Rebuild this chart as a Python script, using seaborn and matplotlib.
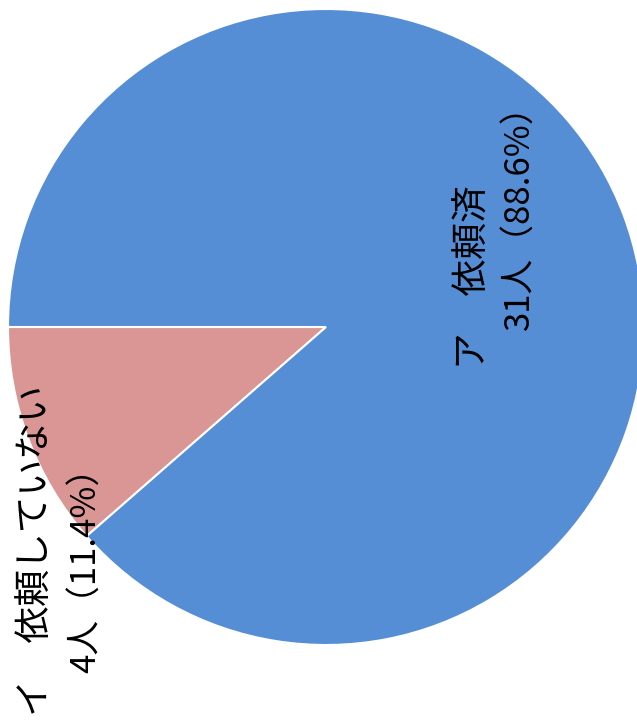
import matplotlib
matplotlib.use("Agg")
import matplotlib.pyplot as plt
import seaborn as sns

# Survey result: whether a request has been made
categories = ["ア　依頼済", "イ　依頼していない"]
counts = [31, 4]
colors = ["#558ED5", "#D99694"]

sns.set_theme(style="white")
plt.rcParams["font.family"] = ["Noto Sans CJK JP", "DejaVu Sans"]

fig = plt.figure(figsize=(6.37, 7.2), dpi=100)
ax = fig.add_axes([8 / 637, 75 / 720, 636 / 637, 636 / 720])

# draw the small slice first so it begins at the 9 o'clock position
order = [1, 0]
wedges, _ = ax.pie(
    [counts[i] for i in order],
    colors=[colors[i] for i in order],
    startangle=180,
    counterclock=True,
    radius=1.0,
    wedgeprops=dict(edgecolor="white", linewidth=1.5),
)
ax.set_xlim(-1, 1)
ax.set_ylim(-1, 1)
ax.set_aspect("equal")
ax.axis("off")

total = sum(counts)
# line anchors (x centre, start of line) in pie coordinates, per category
anchors = {
    0: [(0.462, -0.132), (0.611, -0.009)],
    1: [(-0.912, -1.222), (-0.754, -1.088)],
}
for i, cat in enumerate(categories):
    pct = counts[i] / total * 100
    lines = [cat, f"{counts[i]}人（{pct:.1f}%）"]
    sizes = [26.5, 25]
    for (x, y), line, fs in zip(anchors[i], lines, sizes):
        ax.text(x, y, line, rotation=90, ha="center", va="bottom",
                fontsize=fs, color="black", clip_on=False)

fig.savefig("out.png", dpi=100)
